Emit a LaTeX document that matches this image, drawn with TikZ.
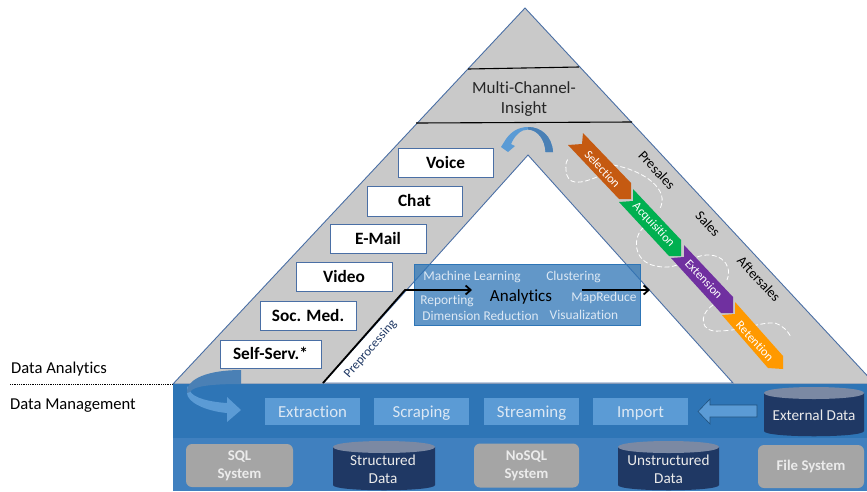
\documentclass[tikz,border=0pt]{standalone}
\usepackage{fontspec}
\setmainfont[Ligatures=NoCommon]{Carlito}
\usetikzlibrary{arrows.meta}
\definecolor{edgeblue}{HTML}{4A6FA5}
\definecolor{tgrey}{HTML}{C9C9C9}
\definecolor{bandA}{HTML}{2E75B6}
\definecolor{bandB}{HTML}{4080BF}
\definecolor{lblue}{HTML}{5B9BD5}
\definecolor{arrowdark}{HTML}{4A80B5}
\definecolor{navy}{HTML}{1F3864}
\definecolor{navytop}{HTML}{7B89A3}
\definecolor{sysgrey}{HTML}{A5A5A5}
\definecolor{boxtxt}{HTML}{DCE8F4}
\definecolor{cSel}{HTML}{C55A11}
\definecolor{cAcq}{HTML}{00B050}
\definecolor{cExt}{HTML}{7030A0}
\definecolor{cRet}{HTML}{FF9900}
\newcommand{\fs}[1]{\fontsize{#1}{#1}\selectfont}
\tikzset{
  x=1pt,y=-1pt,
  channel/.style={draw=edgeblue,line width=0.9pt,fill=white,font=\fs{17.3}\bfseries,text=black,inner sep=0pt,text height=12pt,text depth=1pt},
  step box/.style={fill=lblue,text=boxtxt,font=\fs{16.8},inner sep=0pt,text height=12pt,text depth=1pt},
  sysbox/.style={fill=sysgrey,rounded corners=6pt,text=white!92!black,font=\fs{14.8}\bfseries,align=center,inner sep=0pt,execute at begin node={\setlength{\baselineskip}{18pt}}},
  cyltxt/.style={text=white!92!black,font=\fs{15.2},align=center,inner sep=0pt,execute at begin node={\setlength{\baselineskip}{18pt}}},
  analytic/.style={text=boxtxt,font=\fs{13.4},inner sep=0pt},
  chevlabel/.style={text=white,font=\fs{12.3},rotate=-47,inner sep=0pt},
  phase/.style={text=black,font=\fs{14},rotate=-47,inner sep=0pt},
  side/.style={text=black,font=\fs{16.6},anchor=west,inner sep=0pt},
  whitedash/.style={draw=white,line width=0.8pt,dash pattern=on 5pt off 2.5pt},
  heavy/.style={draw=black,line width=1.8pt},
  heavyarrow/.style={heavy,-{Straight Barb[length=5pt,width=9pt]}},
}
\newcommand{\cyl}[4]{% x1 y1 x2 y2
  \fill[navy] (#1,#2+6) -- (#1,#4-6) .. controls (#1,#4+1) and (#3,#4+1) .. (#3,#4-6) -- (#3,#2+6) -- cycle;
  \fill[navytop] (#1,#2+6) .. controls (#1,#2-2) and (#3,#2-2) .. (#3,#2+6) .. controls (#3,#2+14) and (#1,#2+14) .. (#1,#2+6) -- cycle;
}
\begin{document}
\begin{tikzpicture}
\useasboundingbox (0,0) rectangle (867,491);
\begin{scope}
\clip (0,0) rectangle (867,491);
% triangles
\path[draw=edgeblue,line width=0.9pt,fill=tgrey] (173,384) -- (525,8) -- (875,384) -- cycle;
\path[draw=edgeblue,line width=0.9pt,fill=white] (323,383) -- (528,155) -- (733,383) -- cycle;
% bands
\fill[bandA] (173,384) rectangle (867,438);
\fill[bandB] (173,438) rectangle (867,491);
\end{scope}
% section lines
\coordinate (capAL) at (468,69); \coordinate (capAR) at (579,67);
\coordinate (capBL) at (416,123); \coordinate (capBR) at (632,122);
\draw[draw=black,line width=1.1pt] (capAL) -- (capAR);
\draw[draw=black,line width=1.1pt] (capBL) -- (capBR);
\node[font=\fs{17},align=center,text=black!85,inner sep=0pt,execute at begin node={\setlength{\baselineskip}{20pt}}] (insight) at (524,99) {Multi-Channel-\\Insight};
% channel boxes
\node[channel,minimum width=95pt,minimum height=29pt] (voice) at (445.5,162.5) {Voice};
\node[channel,minimum width=95pt,minimum height=30pt] (chat) at (414.5,201) {Chat};
\node[channel,minimum width=96pt,minimum height=29pt] (email) at (378,238.5) {E-Mail};
\node[channel,minimum width=96pt,minimum height=29pt] (video) at (344,277) {Video};
\node[channel,minimum width=96pt,minimum height=29pt] (socmed) at (308,315.5) {Soc. Med.};
\node[channel,minimum width=101pt,minimum height=28pt] (selfserv) at (270.5,354) {Self-Serv.*};
% analytics box
\node[fill=bandA,fill opacity=0.75,draw=bandA,line width=0.6pt,minimum width=226pt,minimum height=61pt,inner sep=0pt] (abox) at (527,294.5) {};
\node[font=\fs{17},text=black,inner sep=0pt] (analytics) at (521,297) {Analytics};
\node[analytic] (ml) at (472,277) {Machine Learning};
\node[analytic] (cluster) at (573.5,277) {Clustering};
\node[analytic] (report) at (447,301.5) {Reporting};
\node[analytic] (mapred) at (604,298) {MapReduce};
\node[analytic] (dimred) at (480.5,316) {Dimension Reduction};
\node[analytic] (vis) at (584,315) {Visualization};
% arrows through analytics
\coordinate (preA) at (323,383); \coordinate (preB) at (405,290); \coordinate (preC) at (472,290);
\coordinate (outA) at (582,290); \coordinate (outB) at (650,290);
\draw[heavyarrow] (preA) -- (preB) -- (preC);
\draw[heavyarrow] (outA) -- (outB);
\node[font=\fs{12.8},text=navy,rotate=49,inner sep=0pt] (prep) at (370.5,349) {Preprocessing};
% top curved arrow
\fill[lblue] (553,152) .. controls (552,136) and (541,127) .. (528,127) .. controls (518,127) and (511,132) .. (506,139) -- (501,147) -- (508,152) -- (515,146) -- (511,144) .. controls (515,135) and (521,129.5) .. (528,129.5) .. controls (538,130) and (545,140) .. (545.5,152) -- cycle;
\fill[arrowdark] (553,152) .. controls (552,136) and (541,127) .. (528,127) -- (528,129.5) .. controls (538,130) and (545,140) .. (545.5,152) -- cycle;
% dashed loops
\draw[whitedash] (597,177) .. controls (580,184) and (567,186) .. (566,170) .. controls (565,163) and (567,160) .. (569,158);
\draw[whitedash] (613,165) .. controls (643,170) and (672,190) .. (659,210);
\draw[whitedash] (644,227) .. controls (632,237) and (633,262) .. (656,266) .. controls (665,268) and (672,267) .. (677,265);
\draw[whitedash] (697,257) .. controls (716,250) and (734,262) .. (727,280);
\draw[whitedash] (713,305) .. controls (698,315) and (700,333) .. (720,331) .. controls (745,330) and (760,322) .. (775,323) .. controls (782,325) and (788,331) .. (791,337);
% chevrons
\fill[cSel] (568,145) -- (582,144) -- (583,133) -- (631,183) -- (631,199) -- (619,199) -- cycle;
\fill[cAcq] (619,202) -- (633,201) -- (633,189) -- (681,240) -- (681,256) -- (669,256) -- cycle;
\fill[cExt] (671,258) -- (684,257) -- (684,245) -- (733,297) -- (733,313) -- (721,313) -- cycle;
\fill[cRet] (722,315) -- (735,314) -- (735,302) -- (783,356) -- (783,369) -- (768,368) -- cycle;
\node[chevlabel] (lsel) at (602.5,169) {Selection};
\node[chevlabel] (lacq) at (653.5,225) {Acquisition};
\node[chevlabel] (lext) at (704,279) {Extension};
\node[chevlabel] (lret) at (755,341) {Retention};
\node[phase] (presales) at (657,170) {Presales};
\node[phase] (sales) at (708,224) {Sales};
\node[phase] (aftersales) at (759,279) {Aftersales};
% side labels
\node[side] (da) at (11,369) {Data Analytics};
\node[side] (dm) at (10,406) {Data Management};
\coordinate (dotA) at (10,384); \coordinate (dotB) at (173,384);
\draw[black,line width=0.8pt,densely dotted] (dotA) -- (dotB);
% step boxes
\node[step box,minimum width=95pt,minimum height=27pt] (extr) at (312.5,411.5) {Extraction};
\node[step box,minimum width=95pt,minimum height=27pt] (scrap) at (421.5,411.5) {Scraping};
\node[step box,minimum width=95pt,minimum height=27pt] (stream) at (531.5,411.5) {Streaming};
\node[step box,minimum width=95pt,minimum height=27pt] (impo) at (640.5,411.5) {Import};
% curved arrow left
\fill[lblue] (187,386) -- (187,393) .. controls (187,402) and (205,411) .. (227,413) -- (227,422) -- (241,410) -- (227,397) -- (227,403) .. controls (210,402) and (193,398) .. (190,391) -- cycle;
\fill[arrowdark] (187,393) .. controls (186,378) and (210,370) .. (241,370) -- (241,384) .. controls (212,384) and (193,386) .. (190,392) -- cycle;
% import arrow
\fill[lblue,draw=bandA!70!black,line width=0.6pt] (757,405) -- (710,405) -- (710,399) -- (698,411.5) -- (710,424) -- (710,417) -- (757,417) -- cycle;
% systems
\node[sysbox,minimum width=107pt,minimum height=43pt] (sql) at (239.5,465.5) {SQL\\System};
\node[sysbox,minimum width=105pt,minimum height=44pt] (nosql) at (526.5,465.5) {NoSQL\\System};
\node[sysbox,minimum width=106pt,minimum height=43pt] (file) at (811,466.5) {File System};
% cylinders
\cyl{333}{441}{435}{491}
\cyl{618}{441}{719}{491}
\cyl{764}{387}{864}{437}
\node[cyltxt] (sdata) at (383,469) {Structured\\Data};
\node[cyltxt] (udata) at (668.5,469) {Unstructured\\Data};
\node[cyltxt] (edata) at (814,415) {External Data};
\end{tikzpicture}
\end{document}
